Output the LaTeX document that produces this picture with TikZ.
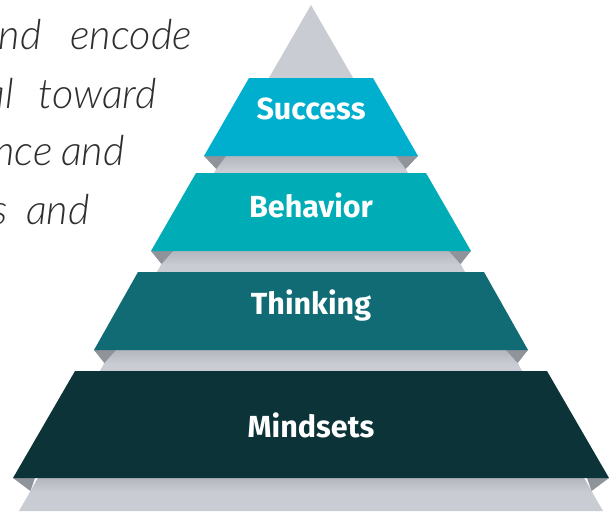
\documentclass[tikz,border=0pt]{standalone}
\usepackage{fontspec}
\setmainfont{Fira Sans}
\newfontfamily\notefont{Lato Light Italic}
\definecolor{pyrgray}{HTML}{C9CCD3}
\definecolor{shadegray}{HTML}{B3B6BE}
\definecolor{foldgray}{HTML}{8F949B}
\definecolor{successc}{HTML}{00AFCE}
\definecolor{behaviorc}{HTML}{00ADB6}
\definecolor{thinkingc}{HTML}{116B74}
\definecolor{mindsetc}{HTML}{0C3438}
\definecolor{notec}{HTML}{2E2E2E}
\begin{document}
\begin{tikzpicture}[x=1pt,y=-1pt,
  tier/.style={white,font=\fontsize{30.5}{36}\selectfont\bfseries,inner sep=0pt},
  note/.style={notec,font=\notefont\fontsize{41.5}{48}\selectfont,inner sep=0pt,anchor=base east},
  fold/.style={fill=foldgray}]
\useasboundingbox (0,0) rectangle (615,511);

% grey pyramid behind the tiers
\fill[pyrgray] (311,5) -- (603,511) -- (19,511) -- cycle;

% soft shadow cast by each tier onto the pyramid
\begin{scope}
  \clip (311,5) -- (603,511) -- (19,511) -- cycle;
  \foreach \yb in {156,251,350,478}
    \shade[top color=shadegray,bottom color=pyrgray] (0,\yb) rectangle (615,\yb+14);
\end{scope}

% tiers: top y, bottom y, top half-width, bottom half-width, colour
\foreach \yt/\yb/\ht/\hb/\col in {78/156/62/107/successc,
                                  173/251/115/160/behaviorc,
                                  272/350/173/217/thinkingc,
                                  371/478/236/298/mindsetc}{
  \pgfmathsetmacro{\xe}{0.5774*(\yb+13-5)}
  % folded corners behind the tier
  \fill[fold] (311-\hb,\yb) -- (311-\hb+22,\yb) -- (311-\xe,\yb+13) -- cycle;
  \fill[fold] (311+\hb,\yb) -- (311+\hb-22,\yb) -- (311+\xe,\yb+13) -- cycle;
  \fill[\col] (311-\ht,\yt) -- (311+\ht,\yt) -- (311+\hb,\yb) -- (311-\hb,\yb) -- cycle;
}

% tier labels
\node[tier] (success)  at (311,109) {Success};
\node[tier] (behavior) at (311,205) {Behavior};
\node[tier] (thinking) at (311,306) {Thinking};
\node[tier] (mindsets) at (311,425) {Mindsets};

% running text at the left edge
\node[note] (n1a) at (42,50)  {nd};
\node[note] (n1b) at (192,50) {encode};
\node[note] (n2a) at (14,108) {al};
\node[note] (n2b) at (157,108) {toward};
\node[note] (n3a) at (53,165) {nce};
\node[note] (n3b) at (125,165) {and};
\node[note] (n4a) at (8,224)  {s};
\node[note] (n4b) at (90,224) {and};
\end{tikzpicture}
\end{document}
